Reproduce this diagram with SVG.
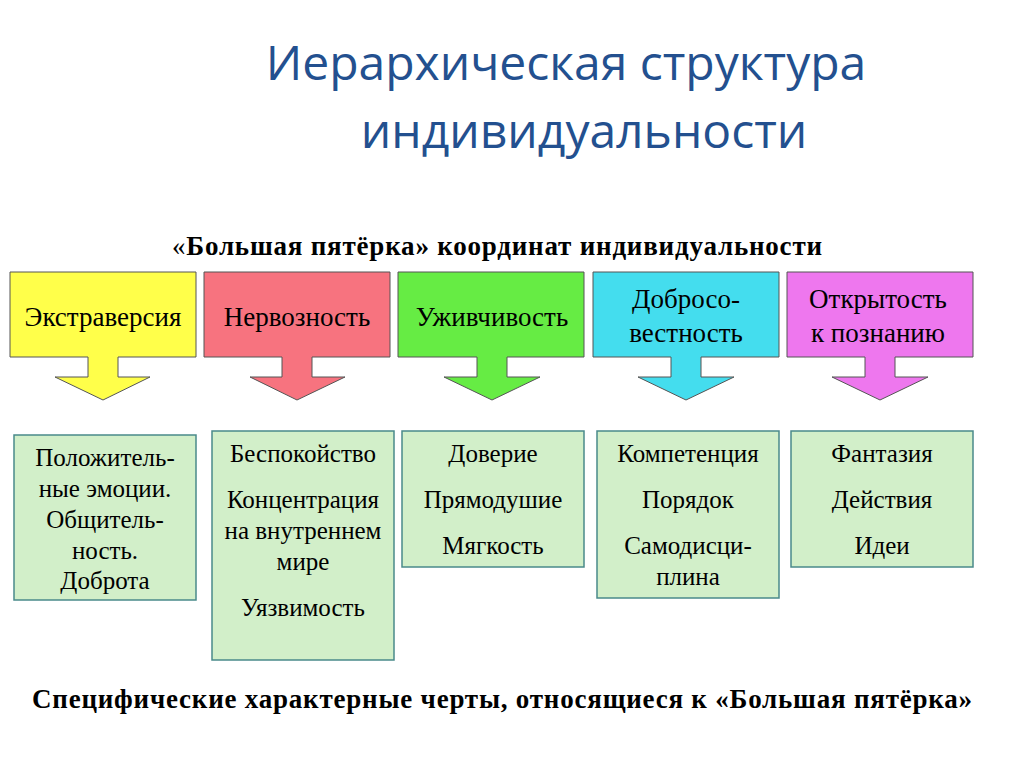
<svg xmlns="http://www.w3.org/2000/svg" width="1024" height="767" viewBox="0 0 1024 767">
<style>
.t{font-family:"Liberation Serif",serif;fill:#000}
.h{font-size:27px;text-anchor:middle}
.l{font-size:25px;text-anchor:middle}
.c{stroke:#555;stroke-width:1}
.b{fill:#d2efc9;stroke:#4a8a8a;stroke-width:1.5}
</style>
<rect width="1024" height="767" fill="#fff"/>
<text x="566" y="80" font-family="Open Sans,Liberation Sans,sans-serif" font-size="48" fill="#23508f" text-anchor="middle">Иерархическая структура</text>
<text x="584" y="148" font-family="Open Sans,Liberation Sans,sans-serif" font-size="48" fill="#23508f" text-anchor="middle">индивидуальности</text>
<text class="t" x="497" y="255" font-size="27" font-weight="bold" text-anchor="middle" textLength="650"><tspan font-weight="normal">«</tspan>Большая пятёрка» координат индивидуальности</text>
<g id="n1"><path class="c" fill="#ffff4a" d="M10,272H196V357H118V377H150L103,400L55,377H88V357H10Z"/><text class="t h" x="103" y="326">Экстраверсия</text></g>
<g id="n2"><path class="c" fill="#f7737f" d="M204,272H390V357H312V377H345L297,400L250,377H282V357H204Z"/><text class="t h" x="297" y="326">Нервозность</text></g>
<g id="n3"><path class="c" fill="#66ec44" d="M398,272H584V357H507V377H540L492,400L444,377H477V357H398Z"/><text class="t h" x="492" y="326">Уживчивость</text></g>
<g id="n4"><path class="c" fill="#44ddee" d="M593,272H779V357H701V377H734L686,400L638,377H671V357H593Z"/><text class="t h" x="686" y="308">Добросо-</text><text class="t h" x="686" y="342">вестность</text></g>
<g id="n5"><path class="c" fill="#ee77ee" d="M787,272H973V357H895V377H928L880,400L832,377H865V357H787Z"/><text class="t h" x="878" y="308">Открытость</text><text class="t h" x="878" y="342">к познанию</text></g>
<g id="d1"><rect class="b" x="14" y="435" width="182" height="165"/><text class="t l" x="105" y="466">Положитель-</text><text class="t l" x="105" y="497">ные эмоции.</text><text class="t l" x="105" y="528">Общитель-</text><text class="t l" x="105" y="559">ность.</text><text class="t l" x="105" y="589">Доброта</text></g>
<g id="d2"><rect class="b" x="212" y="431" width="182" height="229"/><text class="t l" x="303" y="462">Беспокойство</text><text class="t l" x="303" y="508">Концентрация</text><text class="t l" x="303" y="539">на внутреннем</text><text class="t l" x="303" y="570">мире</text><text class="t l" x="303" y="616">Уязвимость</text></g>
<g id="d3"><rect class="b" x="402" y="431" width="182" height="136"/><text class="t l" x="493" y="462">Доверие</text><text class="t l" x="493" y="508">Прямодушие</text><text class="t l" x="493" y="554">Мягкость</text></g>
<g id="d4"><rect class="b" x="597" y="431" width="182" height="167"/><text class="t l" x="688" y="462">Компетенция</text><text class="t l" x="688" y="508">Порядок</text><text class="t l" x="688" y="554">Самодисци-</text><text class="t l" x="688" y="585">плина</text></g>
<g id="d5"><rect class="b" x="791" y="431" width="182" height="136"/><text class="t l" x="882" y="462">Фантазия</text><text class="t l" x="882" y="508">Действия</text><text class="t l" x="882" y="554">Идеи</text></g>
<text class="t" x="502" y="708" font-size="27" font-weight="bold" text-anchor="middle" textLength="940">Специфические характерные черты, относящиеся к «Большая пятёрка»</text>
</svg>
